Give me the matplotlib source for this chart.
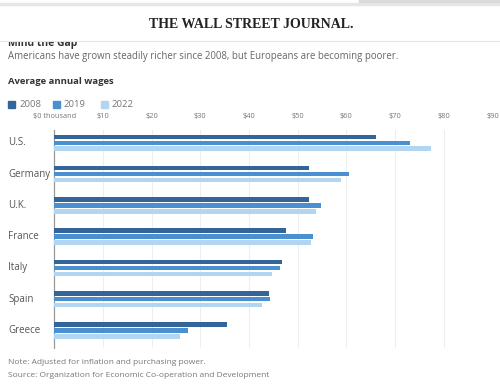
import matplotlib
matplotlib.use("Agg")
import matplotlib.pyplot as plt
import matplotlib.transforms as mtransforms
import numpy as np

countries = ["U.S.", "Germany", "U.K.", "France", "Italy", "Spain", "Greece"]
years = ["2008", "2019", "2022"]
w2008 = [66.0, 52.4, 52.4, 47.5, 46.8, 44.1, 35.4]
w2019 = [73.1, 60.6, 54.7, 53.1, 46.4, 44.4, 27.5]
w2022 = [77.4, 58.8, 53.8, 52.7, 44.8, 42.7, 25.8]
xticks = [0, 10, 20, 30, 40, 50, 60, 70, 80, 90]
xticklabels = ["$0 thousand", "$10", "$20", "$30", "$40", "$50", "$60", "$70", "$80", "$90"]
colors = ["#34659a", "#4a8fcf", "#b2d5f1"]

W, H = 500, 385
fig = plt.figure(figsize=(W / 100, H / 100), dpi=100)
FONT = "Open Sans"

def fx(px):
    return px / W

def fy(py):
    return 1 - py / H

# browser strip / header
fig.add_artist(plt.Line2D([0, 1], [fy(4), fy(4)], color="#e6e6e6", lw=2.5))
fig.add_artist(plt.Line2D([fx(360), 1], [fy(1), fy(1)], color="#dadada", lw=2.5))
mtg = fig.text(fx(8), fy(46), "Mind the Gap", family=FONT, weight="bold",
               fontsize=7.5, ha="left", va="baseline", color="#333333", zorder=3)
mtg.set_clip_box(mtransforms.TransformedBbox(
    mtransforms.Bbox([[0, 0], [1, fy(42)]]), fig.transFigure))
mtg.set_clip_on(True)
fig.add_artist(plt.Line2D([0, 1], [fy(41), fy(41)], color="#e4e4e4", lw=0.8, zorder=6))
fig.text(fx(251), fy(25), "THE WALL STREET JOURNAL.", family="Liberation Serif",
         weight="bold", fontsize=10, ha="center",
         va="center", color="#222222", zorder=10)

fig.text(fx(8), fy(56), "Americans have grown steadily richer since 2008, but Europeans are becoming poorer.",
         family=FONT, fontsize=6.95, ha="left", va="center", color="#666666")
fig.text(fx(8), fy(81), "Average annual wages", family=FONT, weight="bold",
         fontsize=6.8, ha="left", va="center", color="#333333")

# legend
leg_sq = [8, 53, 101]
for xs, yr, c in zip(leg_sq, years, colors):
    fig.add_artist(plt.Rectangle((fx(xs), fy(108)), fx(7), fy(101) - fy(108), color=c,
                                 transform=fig.transFigure))
    fig.text(fx(xs + 11), fy(104.5), yr, family=FONT, fontsize=6.8, ha="left",
             va="center", color="#777777")

# main axes
left_px, right_px, top_px, bot_px = 54.2, 492.5, 130, 348
ax = fig.add_axes([fx(left_px), fy(bot_px), (right_px - left_px) / W, (bot_px - top_px) / H])
y = np.arange(len(countries))
off = 0.19
h = 0.145
for i, (vals, c) in enumerate(zip([w2008, w2019, w2022], colors)):
    ax.barh(y + (i - 1) * off, vals, height=h, color=c, zorder=3)

ax.set_xlim(0, 90)
ax.set_ylim(6.56, -0.41)
for s in ["top", "right", "bottom"]:
    ax.spines[s].set_visible(False)
ax.spines["left"].set_color("#999999")
ax.spines["left"].set_linewidth(0.9)
ax.xaxis.tick_top()
ax.set_xticks(xticks)
ax.set_xticklabels(xticklabels, family=FONT, fontsize=5.3, color="#777777")
ax.tick_params(axis="x", length=0, pad=7)
for t in xticks[1:]:
    ax.axvline(t, color="#eeeeee", lw=0.8, zorder=1)
ax.set_yticks([])
blend = mtransforms.blended_transform_factory(fig.transFigure, ax.transData)
for yi, name in zip(y, countries):
    ax.text(fx(8), yi, name, transform=blend, family=FONT, fontsize=7,
            ha="left", va="center", color="#555555")

fig.text(fx(8), fy(362), "Note: Adjusted for inflation and purchasing power.",
         family=FONT, fontsize=6.0, ha="left", va="center", color="#777777")
fig.text(fx(8), fy(375.5), "Source: Organization for Economic Co-operation and Development",
         family=FONT, fontsize=6.0, ha="left", va="center", color="#777777")

fig.savefig("out.png", dpi=100, facecolor="white")
